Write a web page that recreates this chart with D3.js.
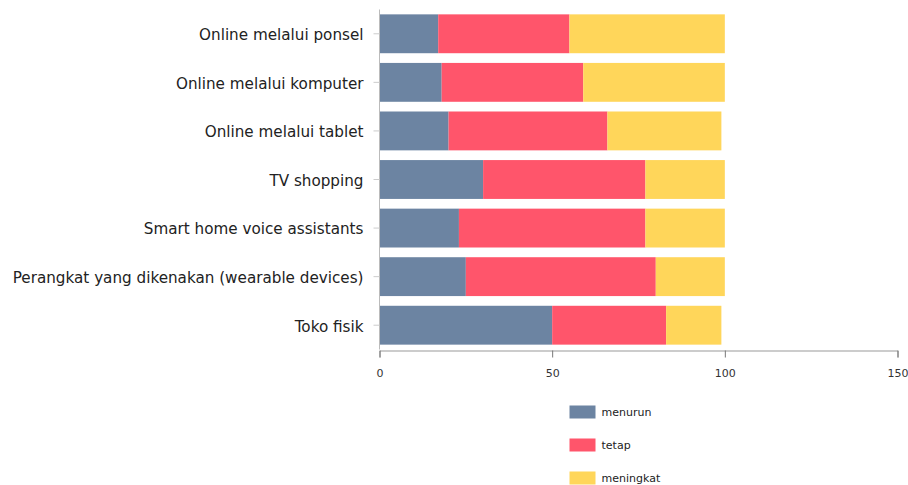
<!DOCTYPE html>
<html>
<head>
<meta charset="utf-8">
<script src="https://cdn.jsdelivr.net/npm/d3@7"></script>
<style>
  html, body { margin: 0; padding: 0; background: #fff; }
  svg { display: block; }
  svg text { font-family: "DejaVu Sans", Verdana, sans-serif; }
</style>
</head>
<body>
<svg id="chart" width="908" height="485"></svg>
<script>
// Shopping channels and how their use changed (percent of respondents)
const categories = [
  "Online melalui ponsel",
  "Online melalui komputer",
  "Online melalui tablet",
  "TV shopping",
  "Smart home voice assistants",
  "Perangkat yang dikenakan (wearable devices)",
  "Toko fisik"
];
const seriesNames = ["menurun", "tetap", "meningkat"];
const menurun   = [17, 18, 20, 30, 23, 25, 50];
const tetap     = [38, 41, 46, 47, 54, 55, 33];
const meningkat = [45, 41, 33, 23, 23, 20, 16];
const xTicks = [0, 50, 100, 150];
const colors = ["#6c84a2", "#ff556b", "#ffd65a"];

const svg = d3.select("#chart");
const margin = { left: 379.5, right: 10.5, top: 9.5, bottom: 135.5 };
const W = 908, H = 485;

const x = d3.scaleLinear().domain([0, 150]).range([margin.left, W - margin.right]);
const y = d3.scaleBand().domain(categories).range([margin.top, H - margin.bottom])
  .paddingInner(0.2).paddingOuter(0.1);
const color = d3.scaleOrdinal().domain(seriesNames).range(colors);

const rows = categories.map((c, i) => ({
  cat: c, menurun: menurun[i], tetap: tetap[i], meningkat: meningkat[i]
}));
const stacked = d3.stack().keys(seriesNames)(rows);

svg.append("g")
  .selectAll("g")
  .data(stacked)
  .join("g")
  .attr("fill", d => color(d.key))
  .selectAll("rect")
  .data(d => d)
  .join("rect")
  .attr("x", d => x(d[0]))
  .attr("y", d => y(d.data.cat))
  .attr("width", d => x(d[1]) - x(d[0]))
  .attr("height", y.bandwidth());

// y axis
const yAxis = svg.append("g")
  .attr("transform", `translate(${margin.left},0)`)
  .call(d3.axisLeft(y).tickSize(6).tickPadding(10))
  .attr("font-family", null);
yAxis.select(".domain").attr("stroke", "#bbb").attr("d", `M-0,${margin.top}V${H - margin.bottom}`);
yAxis.selectAll(".tick line").attr("stroke", "#ccc");
yAxis.selectAll(".tick text").attr("fill", "#222").attr("dy", "0.42em").style("font-size", "15.2px");

// x axis
const xAxis = svg.append("g")
  .attr("transform", `translate(0,${H - margin.bottom + 1})`)
  .call(d3.axisBottom(x).tickValues(xTicks).tickSize(7).tickPadding(12))
  .attr("font-family", null);
xAxis.select(".domain").attr("stroke", "#999");
xAxis.selectAll(".tick line").attr("stroke", "#777");
xAxis.selectAll(".tick text").attr("fill", "#333").style("font-size", "11px");

// legend
const legend = svg.append("g")
  .selectAll("g")
  .data(seriesNames)
  .join("g")
  .attr("transform", (d, i) => `translate(569.5,${405.5 + i * 33})`);
legend.append("rect")
  .attr("width", 26).attr("height", 13)
  .attr("fill", d => color(d));
legend.append("text")
  .attr("x", 32).attr("y", 6.5).attr("dy", "0.35em")
  .attr("fill", "#222")
  .style("font-size", "11px")
  .text(d => d);
</script>
</body>
</html>
